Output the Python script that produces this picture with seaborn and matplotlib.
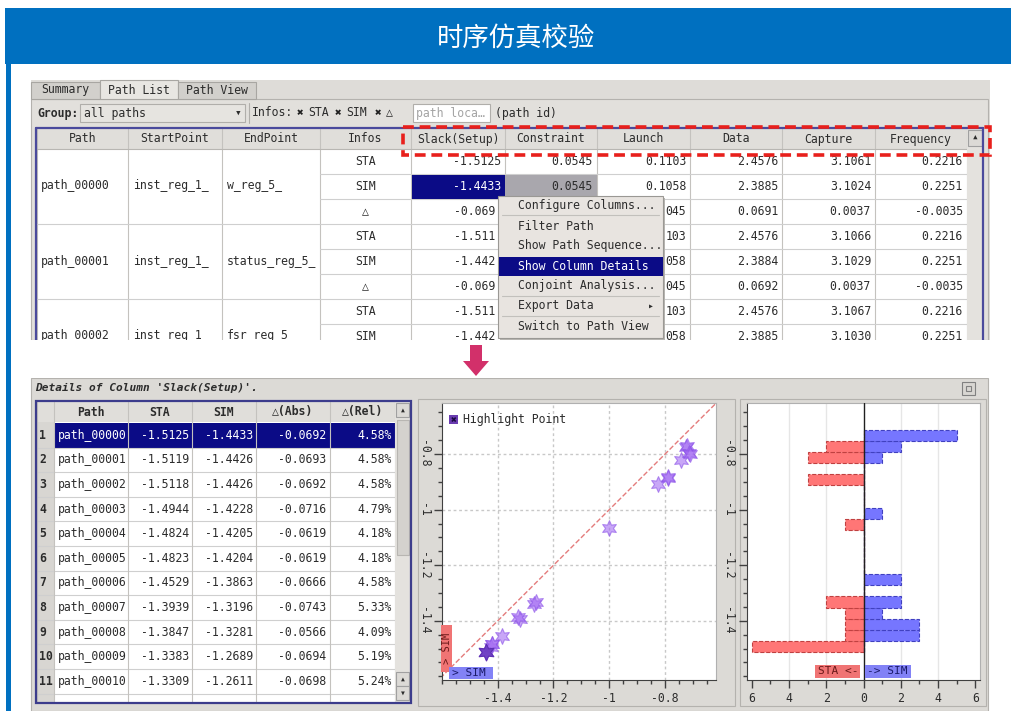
import numpy as np
import matplotlib
matplotlib.use('Agg')
import matplotlib.pyplot as plt
import seaborn as sns
from matplotlib.patches import Rectangle, Polygon
from matplotlib.ticker import MultipleLocator, FixedLocator, FuncFormatter

sns.set_style('white')
plt.rcParams['font.family'] = ['DejaVu Sans Mono', 'DejaVu Sans', 'Noto Sans CJK SC']

W, H = 1011, 711

# ---- data ----
title = "时序仿真校验"
tabs = ["Summary", "Path List", "Path View"]
top_columns = ["Path", "StartPoint", "EndPoint", "Infos", "Slack(Setup)",
               "Constraint", "Launch", "Data", "Capture", "Frequency"]
top_paths = ["path_00000", "path_00001", "path_00002"]
top_starts = ["inst_reg_1_", "inst_reg_1_", "inst_reg_1_"]
top_ends = ["w_reg_5_", "status_reg_5_", "fsr_reg_5"]
top_infos = ["STA", "SIM", "△", "STA", "SIM", "△", "STA", "SIM"]
slack = [-1.5125, -1.4433, -0.0692, -1.5119, -1.4426, -0.0693, -1.5118, -1.4426]
constraint = [0.0545, 0.0545, 0.0000, 0.0545, 0.0545, 0.0000, 0.0545, 0.0545]
launch = [0.1103, 0.1058, 0.0045, 0.1103, 0.1058, 0.0045, 0.1103, 0.1058]
data_col = [2.4576, 2.3885, 0.0691, 2.4576, 2.3884, 0.0692, 2.4576, 2.3885]
capture = [3.1061, 3.1024, 0.0037, 3.1066, 3.1029, 0.0037, 3.1067, 3.1030]
frequency = [0.2216, 0.2251, -0.0035, 0.2216, 0.2251, -0.0035, 0.2216, 0.2251]

menu_items = ["Configure Columns...", "Filter Path", "Show Path Sequence...",
              "Show Column Details", "Conjoint Analysis...", "Export Data",
              "Switch to Path View"]

detail_columns = ["Path", "STA", "SIM", "△(Abs)", "△(Rel)"]
detail_paths = ["path_00000", "path_00001", "path_00002", "path_00003", "path_00004",
                "path_00005", "path_00006", "path_00007", "path_00008", "path_00009",
                "path_00010"]
detail_sta = [-1.5125, -1.5119, -1.5118, -1.4944, -1.4824, -1.4823, -1.4529,
              -1.3939, -1.3847, -1.3383, -1.3309]
detail_sim = [-1.4433, -1.4426, -1.4426, -1.4228, -1.4205, -1.4204, -1.3863,
              -1.3196, -1.3281, -1.2689, -1.2611]
detail_abs = [-0.0692, -0.0693, -0.0692, -0.0716, -0.0619, -0.0619, -0.0666,
              -0.0743, -0.0566, -0.0694, -0.0698]
detail_rel = [4.58, 4.58, 4.58, 4.79, 4.18, 4.18, 4.58, 5.33, 4.09, 5.19, 5.24]

# remaining paths (not listed in the table)
other_sta = [-1.066, -0.908, -0.886, -0.884, -0.822, -0.776, -0.772, -0.797, -0.800]
other_sim = [-1.000, -0.824, -0.790, -0.788, -0.741, -0.723, -0.721, -0.713, -0.712]

sta_all = np.array(detail_sta + other_sta)
sim_all = np.array(detail_sim + other_sim)

slack_ticks = [-1.4, -1.2, -1.0, -0.8]

# ---- figure / pixel helpers ----
fig = plt.figure(figsize=(W / 100, H / 100), dpi=100)
bg = fig.add_axes([0, 0, 1, 1])
bg.set_xlim(0, W)
bg.set_ylim(H, 0)
bg.axis('off')

TXT = '#2c2c2c'
NAVY = '#0b0b86'
FS = 8.3


def rect(ax, x0, y0, x1, y1, fc, ec='none', lw=0.8, ls='-', z=1):
    ax.add_patch(Rectangle((x0, y0), x1 - x0, y1 - y0, facecolor=fc,
                           edgecolor=ec, linewidth=lw, linestyle=ls, zorder=z))


def txt(ax, x, y, s, ha='left', color=TXT, size=FS, z=5, **kw):
    ax.text(x, y, s, ha=ha, va='center', color=color, fontsize=size, zorder=z, **kw)


def hline(ax, x0, x1, y, color='#cfcfcf', lw=0.8, z=2):
    ax.plot([x0, x1], [y, y], color=color, lw=lw, zorder=z)


def vline(ax, x, y0, y1, color='#cfcfcf', lw=0.8, z=2):
    ax.plot([x, x], [y0, y1], color=color, lw=lw, zorder=z)


def px_axes(x0, y0, x1, y1):
    return fig.add_axes([x0 / W, 1 - y1 / H, (x1 - x0) / W, (y1 - y0) / H])


# ---- banner ----
rect(bg, 5, 8, W, 64, '#0070c0', z=1)
rect(bg, 6, 64, 11, H, '#0070c0', z=1)
bg.text(516, 38, title, ha='center', va='center', color='white', fontsize=19,
        family=['Noto Sans CJK SC'], zorder=5)

# ---- top screenshot ----
rect(bg, 31, 80, 990, 340, '#dedcd8', z=1)
rect(bg, 31, 99, 988, 340, '#e2e0dc', ec='#b4b2ae', z=1)
tab_x = [(31, 100), (100, 178), (178, 256)]
for (a, b), name in zip(tab_x, tabs):
    sel = name == "Path List"
    rect(bg, a, 80 if sel else 82, b, 99, '#e8e6e2' if sel else '#d2d0cc', ec='#a8a6a2', z=2)
    txt(bg, (a + b) / 2, 90, name, ha='center', z=3)

txt(bg, 37, 113, "Group:", weight='bold')
rect(bg, 80, 104, 245, 122, '#e6e4e0', ec='#b0aeaa', z=2)
txt(bg, 84, 113, "all paths")
txt(bg, 238, 114, "▾", ha='center', size=8)
vline(bg, 249, 103, 123, color='#b0aeaa')
txt(bg, 252, 113, "Infos:")
for xb, lab in [(300, "STA"), (338, "SIM"), (378, "△")]:
    txt(bg, xb, 113, "✖", ha='center', size=8, color='#202020')
    txt(bg, xb + 8, 113, lab)
rect(bg, 413, 104, 490, 122, 'white', ec='#b0aeaa', z=2)
txt(bg, 416, 113, "path loca…", color='#a4a4a4')
txt(bg, 495, 113, "(path id)")

col_edges = [37, 128, 222, 320, 411, 505, 597, 690, 782, 875, 967]
rect(bg, 37, 129, 967, 149, '#e0deda', z=2)
rect(bg, 37, 149, 967, 340, 'white', z=2)
for i, name in enumerate(top_columns):
    txt(bg, (col_edges[i] + col_edges[i + 1]) / 2, 139, name, ha='center', z=4)
for x in col_edges:
    vline(bg, x, 129, 340, color='#c4c2be', z=3)
hline(bg, 37, 967, 149, color='#b8b6b2', z=3)

row_h = 25
row_top = 149
for k in range(1, 8):
    y = row_top + k * row_h
    x0 = 37 if k % 3 == 0 else 320
    hline(bg, x0, 967, y, z=3)

# selected cells
rect(bg, 412, 175, 505, 199, NAVY, z=3)
rect(bg, 505, 175, 597, 199, '#a9a7ad', z=3)

value_cols = [slack, constraint, launch, data_col, capture, frequency]
for r in range(8):
    yc = row_top + r * row_h + 12.5
    txt(bg, 365.5, yc, top_infos[r], ha='center', z=4)
    under_menu = r >= 2
    for c, vals in enumerate(value_cols):
        s = f"{vals[r]:.4f}"
        col = 'white' if (r == 1 and c == 0) else TXT
        xr = col_edges[c + 5] - 4
        if under_menu and c == 0:
            s, xr = s[:-1], xr - 6     # last digit hidden by the popup menu
        elif under_menu and c == 1:
            continue                   # fully hidden by the popup menu
        elif under_menu and c == 2:
            s = s[-3:]                 # only the tail shows right of the menu
        txt(bg, xr, yc, s, ha='right', color=col, z=4)
for g in range(3):
    yc = row_top + g * 3 * row_h + 37
    txt(bg, 41, yc, top_paths[g], z=4)
    txt(bg, 133, yc, top_starts[g], z=4)
    txt(bg, 227, yc, top_ends[g], z=4)

# frame + scrollbar
rect(bg, 967, 129, 983, 340, '#e4e2de', z=4)
rect(bg, 968, 130, 982, 146, '#dcdad6', ec='#a0a0a0', z=5)
txt(bg, 975, 138, "▴", ha='center', size=8, z=6)
vline(bg, 36, 128, 340, color='#4a4a9c', lw=1.6, z=5)
vline(bg, 983, 128, 340, color='#4a4a9c', lw=1.6, z=5)
hline(bg, 36, 983, 128, color='#4a4a9c', lw=1.6, z=5)

# context menu
rect(bg, 500, 198, 665, 340, '#b8b6b2', z=6)
rect(bg, 498, 196, 663, 338, '#e8e4e0', ec='#9a9894', z=7)
menu_y = [205, 226, 245, 266, 285, 306, 327]
for y in [215, 296, 316]:
    hline(bg, 502, 659, y, color='#c2c0bc', z=8)
rect(bg, 499, 257, 663, 276, NAVY, z=8)
for y, item in zip(menu_y, menu_items):
    col = 'white' if item == "Show Column Details" else TXT
    txt(bg, 518, y, item, color=col, z=9)
txt(bg, 651, 306, "▸", ha='center', size=7, z=9)

# red dashed highlight
rect(bg, 403, 127, 990, 155, 'none', ec='#e8201c', lw=2.6, ls=(0, (3, 1.6)), z=10)

# cover overflow under the top screenshot
rect(bg, 11, 340, W, 378, 'white', z=11)
bg.add_patch(Polygon([(470, 345), (482, 345), (482, 361), (489, 361), (476, 376),
                      (463, 361), (470, 361)], closed=True, facecolor='#d2306a',
                     edgecolor='none', zorder=12))

# ---- bottom screenshot ----
rect(bg, 31, 378, 988, H, '#dcdad6', ec='#b4b2ae', z=1)
txt(bg, 35, 388, "Details of Column 'Slack(Setup)'.", weight='bold', style='italic', size=8)
rect(bg, 962, 382, 975, 395, '#d8d6d2', ec='#808080', z=2)
rect(bg, 966, 386, 971, 391, 'none', ec='#808080', z=3)

# detail table
rect(bg, 36, 401, 411, 703, 'white', z=2)
d_edges = [37, 54, 128, 192, 256, 330, 395]
rect(bg, 37, 402, 395, 422, '#e0deda', z=3)
rect(bg, 37, 422, 54, 703, '#d8d6d2', z=3)
for i, name in enumerate(detail_columns):
    txt(bg, (d_edges[i + 1] + d_edges[i + 2]) / 2, 412, name, ha='center', weight='bold', z=5)
d_row = 24.6
d_top = 423
rect(bg, 55, d_top, 395, d_top + d_row, NAVY, z=3)
for k in range(12):
    hline(bg, 37, 395, d_top + k * d_row + d_row, z=4)
for x in d_edges:
    vline(bg, x, 402, 703, color='#c4c2be', z=4)
for r in range(len(detail_paths)):
    yc = d_top + r * d_row + d_row / 2
    col = 'white' if r == 0 else TXT
    txt(bg, 39, yc, str(r + 1), weight='bold', z=5)
    txt(bg, 58, yc, detail_paths[r], color=col, z=5)
    txt(bg, 189, yc, f"{detail_sta[r]:.4f}", ha='right', color=col, z=5)
    txt(bg, 253, yc, f"{detail_sim[r]:.4f}", ha='right', color=col, z=5)
    txt(bg, 326, yc, f"{detail_abs[r]:.4f}", ha='right', color=col, z=5)
    txt(bg, 392, yc, f"{detail_rel[r]:.2f}%", ha='right', color=col, z=5)
rect(bg, 395, 402, 410, 702, '#e4e2de', z=5)
rect(bg, 397, 420, 409, 555, '#d4d2ce', ec='#b8b6b2', z=5)
for y0 in [403, 672, 686]:
    rect(bg, 396, y0, 409, y0 + 14, '#dcdad6', ec='#a0a0a0', z=6)
txt(bg, 402.5, 410, "▴", ha='center', size=7, z=7)
txt(bg, 402.5, 679, "▴", ha='center', size=7, z=7)
txt(bg, 402.5, 693, "▾", ha='center', size=7, z=7)
rect(bg, 36, 401, 411, 703, 'none', ec='#3c3c8c', lw=1.6, z=8)

# panel frames around plots
rect(bg, 418, 399, 735, 706, '#dcdad6', ec='#b4b2ae', z=1)
rect(bg, 740, 399, 986, 706, '#dcdad6', ec='#b4b2ae', z=1)

ylim = (-1.613, -0.616)
tick_fmt = FuncFormatter(lambda v, p: f"{v:g}")


def style_axis(a):
    a.tick_params(which='major', direction='out', length=6, width=1, color='#404040',
                  labelsize=FS, labelcolor=TXT, pad=3, bottom=True, left=True)
    a.tick_params(which='minor', direction='out', length=3, width=1, color='#404040',
                  bottom=True, left=True)
    for lbl in a.get_yticklabels():
        lbl.set_rotation(-90)
        lbl.set_va('center')
    for s in ['left', 'bottom']:
        a.spines[s].set_color('#404040')
    for s in ['top', 'right']:
        a.spines[s].set_color('#b0b0b0')
    a.set_xlabel('')
    a.set_ylabel('')


# ---- scatter: STA vs SIM ----
ax = px_axes(442, 403, 716, 680)
ax.set_facecolor('white')
lims = [-1.7, -0.5]
ax.plot(lims, lims, ls='--', color='#e47c7c', lw=1, zorder=1)
sns.scatterplot(x=sim_all[1:], y=sta_all[1:], ax=ax, marker=(6, 1, 0), s=130,
                color='#a46cf2', alpha=0.6, edgecolor='#8a50e8', linewidth=0.8, zorder=3)
sns.scatterplot(x=sim_all[:1], y=sta_all[:1], ax=ax, marker=(6, 1, 0), s=150,
                color='#6a3cc0', alpha=0.9, edgecolor='#5a2cb0', linewidth=0.8, zorder=4)
ax.set_xlim(-1.60, -0.617)
ax.set_ylim(*ylim)
ax.xaxis.set_major_locator(FixedLocator(slack_ticks))
ax.xaxis.set_minor_locator(MultipleLocator(0.05))
ax.yaxis.set_major_locator(FixedLocator(slack_ticks))
ax.yaxis.set_minor_locator(MultipleLocator(0.05))
ax.xaxis.set_major_formatter(tick_fmt)
ax.yaxis.set_major_formatter(tick_fmt)
ax.grid(True, which='major', ls=(0, (2, 2)), color='#c8c8c8', lw=1)
style_axis(ax)

# ---- mirrored histogram ----
hx = px_axes(747, 403, 980, 680)
hx.set_facecolor('white')
lo, hi = min(sta_all.min(), sim_all.min()), max(sta_all.max(), sim_all.max())
sta_counts, edges = np.histogram(sta_all, bins=20, range=(lo, hi))
sim_counts, _ = np.histogram(sim_all, bins=20, range=(lo, hi))
bw = edges[1] - edges[0]
hx.barh(edges[:-1], -sta_counts, height=bw, align='edge', color='#ff7676',
        edgecolor='#c04040', linestyle='--', linewidth=0.8, zorder=3)
hx.barh(edges[:-1], sim_counts, height=bw, align='edge', color='#7676ff',
        edgecolor='#4040c0', linestyle='--', linewidth=0.8, zorder=3)
hx.axvline(0, color='#202020', lw=1, zorder=4)
hx.set_xlim(-6.25, 6.25)
hx.set_ylim(*ylim)
hx.xaxis.set_major_locator(MultipleLocator(2))
hx.xaxis.set_minor_locator(MultipleLocator(1))
hx.xaxis.set_major_formatter(FuncFormatter(lambda v, p: f"{abs(v):g}"))
hx.yaxis.set_major_locator(FixedLocator(slack_ticks))
hx.yaxis.set_minor_locator(MultipleLocator(0.05))
hx.yaxis.set_major_formatter(tick_fmt)
for xv in [-4, -2, 2, 4]:
    hx.axvline(xv, color='#e6e6e6', lw=1, zorder=1)
style_axis(hx)

# ---- overlay labels on the plots ----
ov = fig.add_axes([0, 0, 1, 1])
ov.set_xlim(0, W)
ov.set_ylim(H, 0)
ov.axis('off')
ov.patch.set_alpha(0)
rect(ov, 449, 415, 458, 424, '#6a3cb0', z=2)
txt(ov, 453.5, 419.5, "✖", ha='center', size=7, color='#1a0a40', z=3)
txt(ov, 463, 420, "Highlight Point", z=3)
rect(ov, 441, 625, 452, 672, '#f07474', z=2)
ov.text(446.5, 648, "> SIM", rotation=90, ha='center', va='center', fontsize=7.5,
        color='#6a1818', zorder=3)
rect(ov, 449, 667, 493, 679, '#8282f6', z=2)
txt(ov, 452, 673, "> SIM", size=8, color='#1a1a6a', z=3)
rect(ov, 815, 665, 860, 678, '#f07474', z=2)
txt(ov, 818, 671.5, "STA <-", size=8, color='#6a1818', z=3)
rect(ov, 865, 665, 911, 678, '#8282f6', z=2)
txt(ov, 867, 671.5, "-> SIM", size=8, color='#1a1a6a', z=3)

fig.savefig('out.png', dpi=100)
